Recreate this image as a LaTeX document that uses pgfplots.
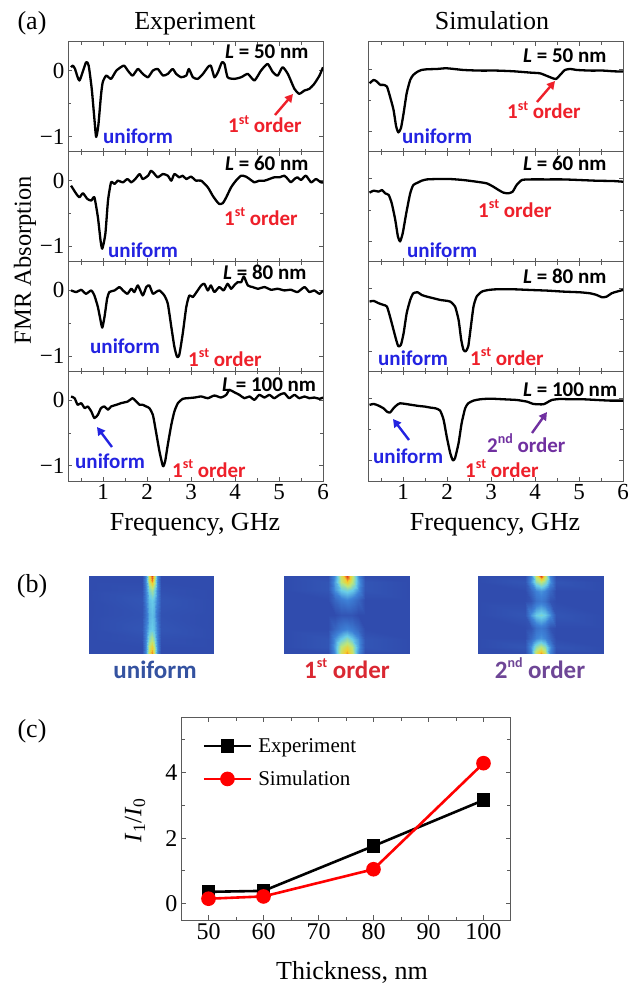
\documentclass[border=0pt]{standalone}
\usepackage{fontspec}
\setmainfont{Liberation Serif}
\newfontfamily\calib{Carlito}
\usepackage{pgfplots}
\pgfplotsset{compat=1.18}
\usetikzlibrary{arrows.meta}
\definecolor{ublue}{RGB}{35,35,225}
\definecolor{ured}{RGB}{238,32,42}
\definecolor{upurple}{RGB}{112,48,160}
\definecolor{bblue}{RGB}{52,82,160}
\definecolor{bred}{RGB}{218,40,50}
\definecolor{bpurple}{RGB}{110,70,150}
\definecolor{frame}{RGB}{90,90,90}
\newcommand\fA{\fontsize{26}{30}\selectfont}
\newcommand\fT{\fontsize{23}{26}\selectfont}
\newcommand\fB{\calib\bfseries\fontsize{21}{24}\selectfont}
\newcommand\fBB{\calib\bfseries\fontsize{25}{28}\selectfont}
\newcommand\sups[1]{\raisebox{0.42em}{\fontsize{14}{14}\selectfont #1}}
\pgfplotsset{
  /pgf/number format/assume math mode=true,
  colormap={hm}{rgb255(0cm)=(48,76,174) rgb255(3cm)=(62,130,215) rgb255(5cm)=(105,205,232) rgb255(7cm)=(190,230,120) rgb255(8.5cm)=(245,205,45) rgb255(10cm)=(225,60,30)},
  panel/.style={scale only axis, width=255pt, height=109.75pt, anchor=north west,
    xmin=0.2, xmax=6, ymin=-1.23, ymax=0.44,
    xtick={1,2,3,4,5,6}, minor xtick={0.5,1.5,2.5,3.5,4.5,5.5},
    ytick={-1,0}, minor ytick={-0.5},
    xticklabels={}, yticklabels={},
    tick align=inside, major tick length=4pt, minor tick length=3pt,
    axis line style={draw=frame, line width=1pt},
    every tick/.style={frame, line width=0.9pt},
    tick label style={font=\fT},
  },
  rpanel/.style={panel, ymin=-1.32, ymax=0.43},
  curve/.style={black, line width=2.3pt, line join=round, smooth, tension=0.35},
  hmap/.style={scale only axis, width=125pt, height=77pt, anchor=north west, hide axis,
    view={0}{90}, xmin=0, xmax=12, ymin=0, ymax=8, colormap name=hm,
    point meta min=0, point meta max=1},
}
\begin{document}
\begin{tikzpicture}
\path[use as bounding box] (0,0) rectangle (639pt,-987pt);
% ---------------- (a) left column
\begin{axis}[panel, at={(68pt,-42pt)}, yticklabels={−1,0}]
\addplot[curve] coordinates {(0.27,0.056)(0.31,0.081)(0.36,0.030)(0.46,-0.146)(0.61,0.131)(0.67,0.081)(0.74,-0.273)(0.80,-0.727)(0.84,-1.005)(0.89,-0.828)(0.95,-0.374)(0.99,-0.172)(1.07,-0.071)(1.18,-0.121)(1.30,0.005)(1.47,0.081)(1.56,0.005)(1.67,-0.071)(1.79,0.030)(1.90,-0.045)(2.02,-0.096)(2.13,0.005)(2.24,0.030)(2.36,-0.071)(2.47,-0.045)(2.58,0.030)(2.66,-0.045)(2.77,-0.096)(2.89,-0.071)(2.95,0.030)(3.04,-0.096)(3.15,-0.121)(3.27,-0.045)(3.38,0.056)(3.45,0.081)(3.53,-0.096)(3.61,-0.020)(3.70,0.131)(3.76,0.106)(3.83,-0.096)(3.98,-0.121)(4.14,-0.096)(4.29,-0.045)(4.44,-0.146)(4.59,0.005)(4.74,0.106)(4.86,-0.020)(4.97,-0.071)(5.08,0.056)(5.20,-0.045)(5.35,-0.273)(5.46,-0.348)(5.58,-0.298)(5.69,-0.273)(5.80,-0.197)(5.92,-0.071)(6.0,0.056)};
\end{axis}
\begin{axis}[panel, at={(68pt,-151.75pt)}, yticklabels={−1,0}]
\addplot[curve] coordinates {(0.27,-0.076)(0.39,-0.202)(0.46,-0.253)(0.54,-0.192)(0.64,-0.278)(0.73,-0.303)(0.80,-0.253)(0.88,-0.556)(0.94,-0.909)(0.98,-1.035)(1.05,-0.808)(1.11,-0.303)(1.18,-0.025)(1.26,-0.051)(1.33,0)(1.45,-0.025)(1.55,0.025)(1.64,-0.025)(1.73,0.025)(1.83,0.101)(1.90,0.025)(2.02,0.076)(2.09,0.152)(2.17,0.101)(2.24,0.051)(2.36,0.101)(2.47,0.076)(2.55,0)(2.62,0.101)(2.73,0.051)(2.81,0.076)(2.89,0.025)(3.00,0.061)(3.11,0)(3.23,0)(3.38,-0.101)(3.49,-0.227)(3.57,-0.303)(3.64,-0.354)(3.72,-0.343)(3.80,-0.253)(3.91,-0.101)(4.02,0)(4.14,0.076)(4.25,0.061)(4.33,0.025)(4.44,-0.025)(4.55,0)(4.67,0)(4.78,0.025)(4.89,0.051)(5.01,0.051)(5.12,0.076)(5.20,0.025)(5.27,-0.025)(5.35,0.025)(5.42,0.051)(5.50,0.010)(5.61,0.076)(5.73,-0.025)(5.84,0.025)(5.95,-0.025)(6.0,-0.025)};
\end{axis}
\begin{axis}[panel, at={(68pt,-261.5pt)}, yticklabels={−1,0}]
\addplot[curve] coordinates {(0.27,0)(0.39,-0.025)(0.50,0.010)(0.61,-0.051)(0.73,0)(0.80,-0.076)(0.88,-0.253)(0.94,-0.455)(0.98,-0.566)(1.03,-0.404)(1.09,-0.126)(1.14,-0.025)(1.26,0)(1.37,0.051)(1.45,0)(1.55,-0.051)(1.64,0.025)(1.71,-0.025)(1.79,0.076)(1.90,-0.076)(1.98,0.051)(2.05,0.076)(2.13,-0.051)(2.20,-0.025)(2.28,0)(2.39,-0.076)(2.47,-0.202)(2.55,-0.556)(2.62,-0.859)(2.68,-1.010)(2.73,-0.985)(2.81,-0.657)(2.89,-0.253)(2.96,-0.076)(3.04,-0.101)(3.15,0)(3.23,0.076)(3.30,0.101)(3.38,0)(3.45,0.076)(3.53,-0.025)(3.64,0.051)(3.74,0)(3.83,0.101)(3.91,0.025)(3.98,0.076)(4.06,0.126)(4.14,0.126)(4.20,0.212)(4.29,0.076)(4.40,0.051)(4.52,0.025)(4.67,0.051)(4.82,0.010)(4.97,0.025)(5.12,0)(5.27,0.010)(5.42,-0.025)(5.58,0.051)(5.69,-0.025)(5.80,0)(5.92,-0.051)(6.0,0)};
\end{axis}
\begin{axis}[panel, at={(68pt,-371.25pt)}, yticklabels={−1,0}, xticklabels={1,2,3,4,5,6}]
\addplot[curve] coordinates {(0.27,0.056)(0.35,0.030)(0.42,-0.071)(0.50,-0.045)(0.58,-0.121)(0.65,-0.096)(0.73,-0.172)(0.80,-0.273)(0.88,-0.222)(0.95,-0.121)(1.03,-0.096)(1.11,-0.146)(1.18,-0.096)(1.30,-0.071)(1.41,-0.045)(1.56,-0.020)(1.67,0.030)(1.75,-0.020)(1.83,-0.071)(1.90,-0.071)(1.98,-0.096)(2.05,-0.121)(2.13,-0.222)(2.20,-0.475)(2.28,-0.778)(2.36,-1.005)(2.41,-0.929)(2.47,-0.677)(2.55,-0.374)(2.62,-0.172)(2.70,-0.045)(2.81,0.020)(2.92,0.030)(3.08,0.040)(3.23,0.056)(3.38,0.030)(3.53,0.071)(3.68,0.040)(3.80,0.081)(3.87,0.157)(3.98,0.121)(4.10,0.081)(4.21,0.030)(4.33,0.056)(4.44,0.005)(4.55,0.081)(4.67,0.040)(4.78,0.081)(4.89,0.030)(5.01,0.081)(5.12,0.106)(5.23,0.030)(5.35,0.081)(5.46,0.030)(5.58,0.056)(5.69,0.030)(5.80,0.040)(5.92,0.020)(6.0,0.040)};
\end{axis}
% ---------------- (a) right column
\begin{axis}[rpanel, at={(368pt,-42pt)}]
\addplot[curve] coordinates {(0.235,-0.228)(0.33,-0.175)(0.40,-0.201)(0.48,-0.254)(0.55,-0.254)(0.63,-0.280)(0.70,-0.439)(0.78,-0.651)(0.84,-0.915)(0.89,-1.011)(0.95,-0.942)(1.01,-0.704)(1.08,-0.386)(1.16,-0.175)(1.23,-0.095)(1.33,-0.042)(1.42,-0.016)(1.54,-0.005)(1.77,0)(1.99,0.011)(2.37,-0.016)(2.75,-0.026)(3.13,-0.026)(3.51,-0.037)(3.89,-0.058)(4.11,-0.069)(4.27,-0.111)(4.40,-0.148)(4.48,-0.159)(4.57,-0.095)(4.68,-0.016)(4.80,0)(4.95,-0.016)(5.25,-0.026)(5.55,-0.026)(5.78,-0.037)(6.0,-0.042)};
\end{axis}
\begin{axis}[rpanel, at={(368pt,-151.75pt)}]
\addplot[curve] coordinates {(0.235,-0.222)(0.33,-0.190)(0.44,-0.206)(0.52,-0.180)(0.59,-0.233)(0.67,-0.259)(0.74,-0.392)(0.82,-0.656)(0.88,-0.921)(0.93,-1.0)(0.99,-0.868)(1.07,-0.550)(1.16,-0.233)(1.23,-0.101)(1.33,-0.063)(1.42,-0.032)(1.54,-0.011)(1.77,-0.005)(2.07,-0.005)(2.37,-0.021)(2.67,-0.048)(2.90,-0.074)(3.05,-0.127)(3.17,-0.180)(3.28,-0.222)(3.39,-0.233)(3.49,-0.206)(3.58,-0.101)(3.70,-0.021)(3.89,-0.011)(4.27,-0.011)(4.64,-0.011)(5.02,-0.021)(5.40,-0.032)(5.78,-0.037)(6.0,-0.048)};
\end{axis}
\begin{axis}[rpanel, at={(368pt,-261.5pt)}]
\addplot[curve] coordinates {(0.235,-0.209)(0.33,-0.198)(0.44,-0.235)(0.55,-0.262)(0.63,-0.288)(0.70,-0.447)(0.78,-0.659)(0.84,-0.817)(0.89,-0.923)(0.95,-0.897)(1.01,-0.712)(1.08,-0.394)(1.16,-0.183)(1.23,-0.077)(1.33,-0.061)(1.42,-0.103)(1.54,-0.130)(1.69,-0.156)(1.84,-0.183)(1.95,-0.193)(2.07,-0.209)(2.18,-0.288)(2.26,-0.500)(2.32,-0.817)(2.37,-0.976)(2.42,-1.003)(2.48,-0.923)(2.54,-0.606)(2.60,-0.288)(2.67,-0.130)(2.79,-0.050)(2.94,-0.024)(3.13,-0.013)(3.51,-0.013)(3.89,-0.024)(4.27,-0.034)(4.64,-0.050)(5.02,-0.061)(5.25,-0.077)(5.40,-0.103)(5.52,-0.140)(5.63,-0.130)(5.74,-0.077)(5.86,-0.050)(6.0,-0.024)};
\end{axis}
\begin{axis}[rpanel, at={(368pt,-371.25pt)}, xticklabels={1,2,3,4,5,6}]
\addplot[curve] coordinates {(0.235,-0.107)(0.33,-0.091)(0.44,-0.118)(0.55,-0.160)(0.63,-0.213)(0.70,-0.229)(0.78,-0.160)(0.86,-0.107)(0.93,-0.081)(1.05,-0.091)(1.20,-0.107)(1.35,-0.123)(1.50,-0.134)(1.61,-0.149)(1.73,-0.160)(1.84,-0.197)(1.92,-0.345)(1.99,-0.610)(2.07,-0.874)(2.13,-0.991)(2.18,-0.954)(2.26,-0.716)(2.33,-0.398)(2.41,-0.160)(2.48,-0.081)(2.60,-0.038)(2.75,-0.017)(2.98,-0.007)(3.28,-0.017)(3.58,-0.028)(3.81,-0.054)(3.96,-0.091)(4.08,-0.097)(4.19,-0.097)(4.27,-0.070)(4.38,-0.028)(4.57,-0.012)(4.80,-0.017)(5.10,-0.017)(5.40,-0.028)(5.70,-0.038)(6.0,-0.038)};
\end{axis}
% ---------------- (a) texts
\node[anchor=base, font=\fA] at (32pt,-30pt) {(a)};
\node[anchor=base, font=\fA] at (195pt,-30pt) {Experiment};
\node[anchor=base, font=\fA] at (492pt,-30pt) {Simulation};
\node[anchor=base, font=\fA] at (195pt,-530pt) {Frequency, GHz};
\node[anchor=base, font=\fA] at (495pt,-530pt) {Frequency, GHz};
\node[rotate=90, font=\fontsize{24.5}{28}\selectfont] at (25pt,-260pt) {FMR Absorption};
\begin{scope}[every node/.style={anchor=base west, inner sep=0pt}]
% L labels
\node[font=\fB] at (225pt,-59pt) {{\itshape L} = 50 nm};
\node[font=\fB] at (225pt,-171pt) {{\itshape L} = 60 nm};
\node[font=\fB] at (223pt,-279pt) {{\itshape L} = 80 nm};
\node[font=\fB] at (222pt,-391pt) {{\itshape L} = 100 nm};
\node[font=\fB] at (523pt,-63pt) {{\itshape L} = 50 nm};
\node[font=\fB] at (523pt,-171pt) {{\itshape L} = 60 nm};
\node[font=\fB] at (523pt,-283pt) {{\itshape L} = 80 nm};
\node[font=\fB] at (523pt,-396pt) {{\itshape L} = 100 nm};
% uniform
\node[font=\fB, text=ublue] at (103pt,-144pt) {uniform};
\node[font=\fB, text=ublue] at (108pt,-257pt) {uniform};
\node[font=\fB, text=ublue] at (90pt,-353pt) {uniform};
\node[font=\fB, text=ublue] at (75pt,-468pt) {uniform};
\node[font=\fB, text=ublue] at (402pt,-144pt) {uniform};
\node[font=\fB, text=ublue] at (407pt,-257pt) {uniform};
\node[font=\fB, text=ublue] at (378pt,-365pt) {uniform};
\node[font=\fB, text=ublue] at (373pt,-463pt) {uniform};
% 1st order
\node[font=\fB, text=ured] at (228pt,-133pt) {1\sups{st} order};
\node[font=\fB, text=ured] at (224pt,-225pt) {1\sups{st} order};
\node[font=\fB, text=ured] at (188pt,-366pt) {1\sups{st} order};
\node[font=\fB, text=ured] at (172pt,-477pt) {1\sups{st} order};
\node[font=\fB, text=ured] at (507pt,-119pt) {1\sups{st} order};
\node[font=\fB, text=ured] at (478pt,-217pt) {1\sups{st} order};
\node[font=\fB, text=ured] at (470pt,-365pt) {1\sups{st} order};
\node[font=\fB, text=ured] at (465pt,-477pt) {1\sups{st} order};
\node[font=\fB, text=upurple] at (487pt,-452pt) {2\sups{nd} order};
\end{scope}
\begin{scope}[line width=2.4pt, -{Triangle[length=8pt,width=8.5pt]}]
\draw[ured] (275pt,-115pt) -- (293pt,-94pt);
\draw[ured] (537pt,-102pt) -- (555pt,-81pt);
\draw[ublue] (112pt,-447pt) -- (97pt,-427pt);
\draw[ublue] (409pt,-440pt) -- (393pt,-419pt);
\draw[upurple] (532pt,-433pt) -- (547pt,-412pt);
\end{scope}
% ---------------- (b)
\node[anchor=base, font=\fA] at (32pt,-592pt) {(b)};
\begin{axis}[hmap, at={(89pt,-576pt)}]
\addplot3[surf, shader=interp] table {
x y z
0 0 0
5.1 0 0
5.45 0 0.35
5.75 0 0.75
6 0 0.92
6.25 0 0.75
6.55 0 0.35
6.9 0 0
12 0 0

0 0.5 0
5.1 0.5 0
5.45 0.5 0.35
5.75 0.5 0.72
6 0.5 0.85
6.25 0.5 0.72
6.55 0.5 0.35
6.9 0.5 0
12 0.5 0

0 1.5 0
5.1 1.5 0.02
5.45 1.5 0.32
5.75 1.5 0.58
6 1.5 0.68
6.25 1.5 0.58
6.55 1.5 0.32
6.9 1.5 0.02
12 1.5 0

0 2.5 0
5.1 2.5 0.05
5.45 2.5 0.3
5.75 2.5 0.46
6 2.5 0.5
6.25 2.5 0.46
6.55 2.5 0.3
6.9 2.5 0.05
12 2.5 0

0 4 0
5.1 4 0.03
5.45 4 0.22
5.75 4 0.42
6 4 0.46
6.25 4 0.42
6.55 4 0.22
6.9 4 0.03
12 4 0

0 5.5 0
5.1 5.5 0.05
5.45 5.5 0.3
5.75 5.5 0.46
6 5.5 0.5
6.25 5.5 0.46
6.55 5.5 0.3
6.9 5.5 0.05
12 5.5 0

0 6.5 0
5.1 6.5 0.02
5.45 6.5 0.32
5.75 6.5 0.56
6 6.5 0.65
6.25 6.5 0.56
6.55 6.5 0.32
6.9 6.5 0.02
12 6.5 0

0 7.5 0
5.1 7.5 0
5.45 7.5 0.35
5.75 7.5 0.75
6 7.5 0.92
6.25 7.5 0.75
6.55 7.5 0.35
6.9 7.5 0
12 7.5 0

0 8 0
5.1 8 0
5.45 8 0.35
5.75 8 0.8
6 8 1.0
6.25 8 0.8
6.55 8 0.35
6.9 8 0
12 8 0
};
\end{axis}
\begin{axis}[hmap, at={(284pt,-576pt)}]
\addplot3[surf, shader=interp] table {
x y z
0 0 0
4.2 0 0
4.9 0 0.35
5.5 0 0.75
6 0 0.9
6.5 0 0.75
7.1 0 0.35
7.8 0 0
12 0 0

0 0.6 0
4.2 0.6 0.05
4.9 0.6 0.4
5.5 0.6 0.7
6 0.6 0.8
6.5 0.6 0.7
7.1 0.6 0.4
7.8 0.6 0.05
12 0.6 0

0 1.5 0
4.2 1.5 0.05
4.9 1.5 0.35
5.5 1.5 0.5
6 1.5 0.6
6.5 1.5 0.5
7.1 1.5 0.35
7.8 1.5 0.05
12 1.5 0

0 2.5 0
4.2 2.5 0
4.9 2.5 0.15
5.5 2.5 0.25
6 2.5 0.3
6.5 2.5 0.25
7.1 2.5 0.15
7.8 2.5 0
12 2.5 0

0 4 0
4.2 4 0
4.9 4 0
5.5 4 0.05
6 4 0.05
6.5 4 0.05
7.1 4 0
7.8 4 0
12 4 0

0 5.5 0
4.2 5.5 0
4.9 5.5 0.15
5.5 5.5 0.25
6 5.5 0.3
6.5 5.5 0.25
7.1 5.5 0.15
7.8 5.5 0
12 5.5 0

0 6.5 0
4.2 6.5 0.05
4.9 6.5 0.35
5.5 6.5 0.5
6 6.5 0.55
6.5 6.5 0.5
7.1 6.5 0.35
7.8 6.5 0.05
12 6.5 0

0 7.4 0
4.2 7.4 0.05
4.9 7.4 0.4
5.5 7.4 0.7
6 7.4 0.85
6.5 7.4 0.7
7.1 7.4 0.4
7.8 7.4 0.05
12 7.4 0

0 8 0
4.2 8 0
4.9 8 0.35
5.5 8 0.75
6 8 1.0
6.5 8 0.75
7.1 8 0.35
7.8 8 0
12 8 0
};
\end{axis}
\begin{axis}[hmap, at={(478pt,-576pt)}]
\addplot3[surf, shader=interp] table {
x y z
0 0 0
4.5 0 0
5.1 0 0.3
5.6 0 0.75
6 0 0.9
6.4 0 0.75
6.9 0 0.3
7.5 0 0
12 0 0

0 0.6 0
4.5 0.6 0.05
5.1 0.6 0.35
5.6 0.6 0.6
6 0.6 0.7
6.4 0.6 0.6
6.9 0.6 0.35
7.5 0.6 0.05
12 0.6 0

0 1.6 0
4.5 1.6 0
5.1 1.6 0.15
5.6 1.6 0.3
6 1.6 0.35
6.4 1.6 0.3
6.9 1.6 0.15
7.5 1.6 0
12 1.6 0

0 2.6 0
4.5 2.6 0
5.1 2.6 0.05
5.6 2.6 0.2
6 2.6 0.25
6.4 2.6 0.2
6.9 2.6 0.05
7.5 2.6 0
12 2.6 0

0 4 0
4.5 4 0.05
5.1 4 0.35
5.6 4 0.5
6 4 0.55
6.4 4 0.5
6.9 4 0.35
7.5 4 0.05
12 4 0

0 5.4 0
4.5 5.4 0
5.1 5.4 0.05
5.6 5.4 0.2
6 5.4 0.25
6.4 5.4 0.2
6.9 5.4 0.05
7.5 5.4 0
12 5.4 0

0 6.4 0
4.5 6.4 0
5.1 6.4 0.15
5.6 6.4 0.3
6 6.4 0.35
6.4 6.4 0.3
6.9 6.4 0.15
7.5 6.4 0
12 6.4 0

0 7.4 0
4.5 7.4 0.05
5.1 7.4 0.35
5.6 7.4 0.6
6 7.4 0.7
6.4 7.4 0.6
6.9 7.4 0.35
7.5 7.4 0.05
12 7.4 0

0 8 0
4.5 8 0
5.1 8 0.3
5.6 8 0.75
6 8 1.0
6.4 8 0.75
6.9 8 0.3
7.5 8 0
12 8 0
};
\end{axis}
\node[anchor=base, font=\fBB, text=bblue] at (155pt,-678pt) {uniform};
\node[anchor=base, font=\fBB, text=bred] at (347pt,-678pt) {1\sups{st} order};
\node[anchor=base, font=\fBB, text=bpurple] at (540pt,-678pt) {2\sups{nd} order};
% ---------------- (c)
\node[anchor=base, font=\fA] at (32pt,-737pt) {(c)};
\begin{axis}[at={(181pt,-717pt)}, anchor=north west, scale only axis, width=330pt, height=203pt,
  xmin=45, xmax=105, ymin=-0.5, ymax=5.7,
  xtick={50,60,70,80,90,100}, minor xtick={55,65,75,85,95},
  ytick={0,2,4}, minor ytick={1,3,5},
  tick align=inside, major tick length=5pt, minor tick length=3.5pt,
  axis line style={draw=frame, line width=1pt},
  every tick/.style={frame, line width=0.9pt},
  tick label style={font=\fontsize{24}{27}\selectfont},
  legend cell align=left,
  legend style={draw=none, fill=none, at={(0.065,0.905)}, anchor=north west,
    font=\fontsize{21}{24}\selectfont, row sep=13pt, column sep=4pt, inner sep=0pt,
    nodes={inner sep=2pt}},
  legend image code/.code={\draw[mark repeat=2,mark phase=2,#1] plot coordinates {(0pt,0pt) (23.5pt,0pt) (47pt,0pt)};},
]
\addplot[black, line width=2.6pt, mark=square*, mark size=5.5pt, mark options={solid}] coordinates {(50,0.36)(60,0.39)(80,1.76)(100,3.16)};
\addlegendentry{Experiment}
\addplot[red, line width=2.6pt, mark=*, mark size=6pt, mark options={solid}] coordinates {(50,0.15)(60,0.22)(80,1.05)(100,4.29)};
\addlegendentry{Simulation}
\end{axis}
\node[rotate=90, font=\fontsize{25}{28}\selectfont] at (135pt,-820pt) {\textit{I}\textsubscript{1}/\textit{I}\textsubscript{0}};
\node[anchor=base, font=\fA] at (352pt,-979pt) {Thickness, nm};
\end{tikzpicture}
\end{document}
